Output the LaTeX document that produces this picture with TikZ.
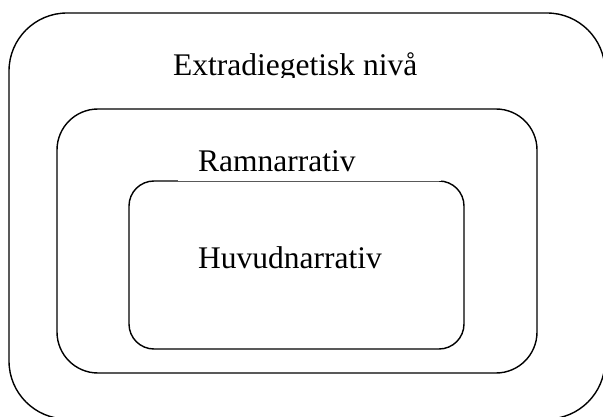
\documentclass[tikz,border=0pt]{standalone}
\usepackage{fontspec}
\setmainfont{Liberation Serif}
\begin{document}
\begin{tikzpicture}[x=1pt,y=-1pt,
  box/.style={draw=black,line width=1.4pt},
  lbl/.style={anchor=base west,inner sep=0pt,font=\fontsize{31.5}{36}\selectfont}]
\useasboundingbox (0,0) rectangle (603,417);
\clip (0,0) rectangle (603,417);
\draw[box,rounded corners=58pt] (9,13) rectangle (605,419);
\draw[box,rounded corners=41pt] (57,109) rectangle (537,373);
\draw[box,rounded corners=25pt] (129,181) rectangle (464,349);
\fill[white] (178,179) rectangle (441,181);
\begin{scope}
  \clip (0,0) rectangle (603,78);
  \node[lbl] (extra) at (173,76) {Extradiegetisk nivå};
\end{scope}
\node[lbl] (ram) at (198,172) {Ramnarrativ};
\node[lbl] (huvud) at (198,269) {Huvudnarrativ};
\end{tikzpicture}
\end{document}
